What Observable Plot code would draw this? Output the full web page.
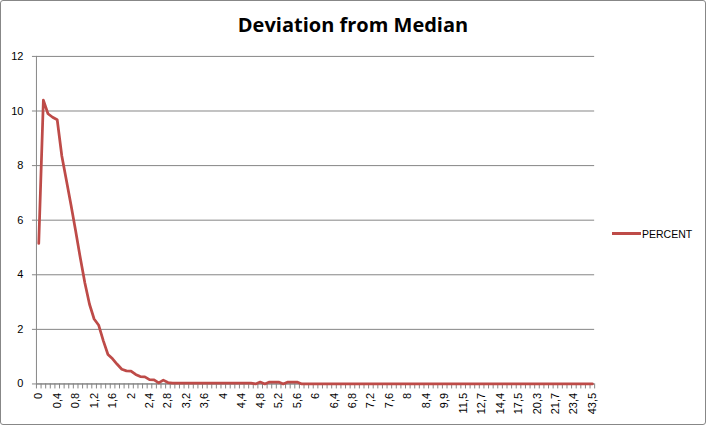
<!DOCTYPE html>
<html>
<head>
<meta charset="utf-8">
<script src="https://cdn.jsdelivr.net/npm/d3@7"></script>
<script src="https://cdn.jsdelivr.net/npm/@observablehq/plot@0.6"></script>
<style>
  html, body { margin: 0; padding: 0; background: #fff; }
  #wrap { position: relative; width: 706px; height: 425px; box-sizing: border-box; border: 1px solid #878787; border-radius: 3px; overflow: hidden; }
  #chart { position: absolute; left: -1px; top: -1px; }
  #title { position: absolute; left: -1px; top: 14px; width: 706px; text-align: center; font: bold 20px "Open Sans", "Liberation Sans", Arial, sans-serif; line-height: 20px; color: #000; }
  #legline { position: absolute; left: 611px; top: 231px; width: 29px; height: 3px; background: #BE4B48; }
  #legtext { position: absolute; left: 641px; top: 228px; font: 10.5px "Liberation Sans", Arial, sans-serif; line-height: 10px; color: #000; }
</style>
</head>
<body>
<div id="wrap">
  <div id="chart"></div>
  <div id="title">Deviation from Median</div>
  <div id="legline"></div>
  <div id="legtext">PERCENT</div>
</div>
<script>
// Category labels (deviation values, comma decimal separator)
const categories = [
  "0","0,1","0,2","0,3","0,4","0,5","0,6","0,7","0,8","0,9",
  "1","1,1","1,2","1,3","1,4","1,5","1,6","1,7","1,8","1,9",
  "2","2,1","2,2","2,3","2,4","2,5","2,6","2,7","2,8","2,9",
  "3","3,1","3,2","3,3","3,4","3,5","3,6","3,7","3,8","3,9",
  "4","4,1","4,2","4,3","4,4","4,5","4,6","4,7","4,8","4,9",
  "5","5,1","5,2","5,3","5,4","5,5","5,6","5,7","5,8","5,9",
  "6","6,1","6,2","6,3","6,4","6,5","6,6","6,7","6,8","6,9",
  "7","7,1","7,2","7,3","7,4","7,5","7,6","7,7","7,8","7,9",
  "8","8,1","8,2","8,3","8,4",
  "8,6","8,9","9,4","9,9",
  "10,2","10,6","11","11,5",
  "11,7","12","12,3","12,7",
  "13,1","13,5","14","14,4",
  "15","16,1","16,8","17,5",
  "18,2","19","19,6","20,3",
  "20,5","20,9","21,3","21,7",
  "22","22,6","23","23,4",
  "25,1","28,7","33,9","43,5"
];

// PERCENT series
const percent = [
  5.15, 10.4, 9.9, 9.77, 9.68, 8.35, 7.45, 6.55, 5.6, 4.62,
  3.7, 2.92, 2.38, 2.15, 1.58, 1.08, 0.92, 0.72, 0.54, 0.48,
  0.47, 0.35, 0.27, 0.26, 0.16, 0.15, 0.04, 0.14, 0.05, 0.03,
  0.03, 0.03, 0.03, 0.03, 0.03, 0.03, 0.03, 0.03, 0.03, 0.03,
  0.03, 0.03, 0.03, 0.03, 0.03, 0.03, 0.03, 0.0, 0.07, 0.0,
  0.07, 0.07, 0.07, 0.0, 0.07, 0.07, 0.07, 0, 0, 0,
  0, 0, 0, 0, 0, 0, 0, 0, 0, 0,
  0, 0, 0, 0, 0, 0, 0, 0, 0, 0,
  0, 0, 0, 0, 0, 0, 0, 0, 0, 0,
  0, 0, 0, 0, 0, 0, 0, 0, 0, 0,
  0, 0, 0, 0, 0, 0, 0, 0, 0, 0,
  0, 0, 0, 0, 0, 0, 0, 0, 0, 0,
  0
];

const yTicks = [0, 2, 4, 6, 8, 10, 12];

const data = categories.map((c, i) => ({i, cat: c, v: percent[i]}));
const labelIdx = data.filter(d => d.i % 4 === 0).map(d => d.i);
const boundaries = d3.range(categories.length + 1).map(k => k - 0.5);

const grid = "#868686";
const font = '"Liberation Sans", Arial, sans-serif';

const plot = Plot.plot({
  width: 706,
  height: 426,
  marginLeft: 36,
  marginRight: 111,
  marginTop: 56,
  marginBottom: 42,
  style: {fontFamily: font, fontSize: "11px", color: "#000", background: "transparent", overflow: "visible"},
  x: {type: "linear", domain: [-0.5, categories.length - 0.5]},
  y: {domain: [0, 12]},
  marks: [
    Plot.gridY(yTicks, {stroke: grid, strokeOpacity: 1}),
    Plot.axisY(yTicks, {tickSize: 4, tickPadding: 9, stroke: grid, label: null, fill: "#000"}),
    Plot.axisX(boundaries, {tickSize: 5, stroke: grid, tickFormat: () => "", label: null}),
    Plot.axisX(labelIdx, {tickSize: 0, tickPadding: 9, tickRotate: -90, tickFormat: i => categories[i], label: null, fill: "#000"}),
    Plot.ruleX([-0.5], {stroke: grid}),
    Plot.ruleY([0], {stroke: grid}),
    Plot.line(data, {x: "i", y: "v", stroke: "#BE4B48", strokeWidth: 2.75, strokeLinejoin: "round", strokeLinecap: "round"})
  ]
});
document.getElementById("chart").appendChild(plot);
</script>
</body>
</html>
